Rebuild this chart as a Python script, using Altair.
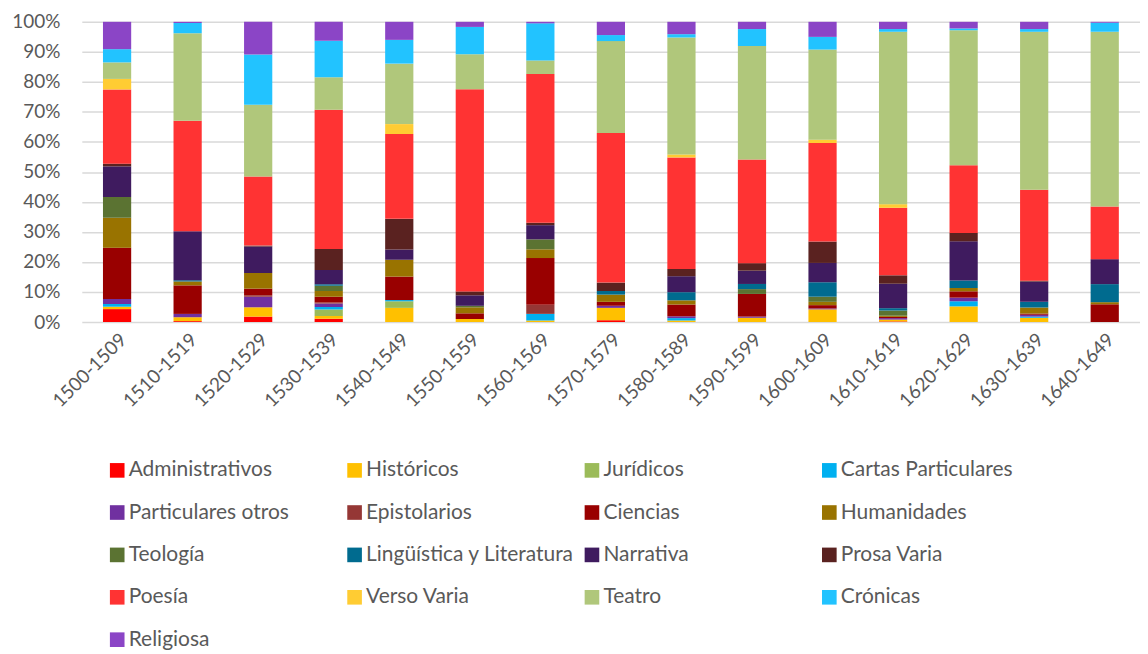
import altair as alt
import pandas as pd

decades = ["1500-1509", "1510-1519", "1520-1529", "1530-1539", "1540-1549",
           "1550-1559", "1560-1569", "1570-1579", "1580-1589", "1590-1599",
           "1600-1609", "1610-1619", "1620-1629", "1630-1639", "1640-1649"]

# Percent share per decade (bottom of stack first)
administrativos = [4.3, 0.3, 1.8, 1.1, 0, 0, 0, 0.6, 0, 0, 0, 0.2, 0, 0, 0]
historicos = [0.8, 1.3, 3.1, 0.9, 4.7, 1.0, 0.5, 4.1, 0.5, 1.4, 4.2, 0.6, 5.2, 1.4, 0]
juridicos = [0, 0, 0, 2.2, 2.2, 0, 0, 0, 0, 0, 0, 0, 0, 0, 0]
cartas_particulares = [0.9, 0, 0, 0.8, 0.4, 0, 2.2, 0, 0.8, 0, 0, 0, 1.7, 0.4, 0]
particulares_otros = [1.7, 1.1, 3.5, 1.2, 0, 0, 0, 0.7, 0.6, 0.4, 0.3, 0.5, 1.2, 0.6, 0]
epistolarios = [0, 0, 0.5, 0.3, 0, 0, 3.0, 0, 0, 0, 0, 0, 0, 0, 0]
ciencias = [17.0, 9.5, 2.2, 1.9, 7.8, 1.9, 15.5, 1.3, 3.9, 7.5, 1.1, 0.4, 2.1, 0.4, 5.9]
humanidades = [10.0, 1.3, 5.2, 1.9, 5.6, 2.0, 2.9, 2.4, 1.4, 0, 1.1, 0.4, 1.1, 2.0, 0.7]
teologia = [6.9, 0, 0, 1.8, 0, 0.5, 3.3, 0, 0, 1.6, 1.7, 1.7, 0, 0, 0]
linguistica = [0, 0.4, 0, 0.5, 0, 0, 0, 1.2, 2.7, 1.7, 4.8, 0.8, 2.5, 1.9, 6.0]
narrativa = [10.2, 16.3, 8.8, 4.7, 3.4, 3.5, 4.7, 0, 5.3, 4.4, 6.4, 8.1, 13.0, 6.7, 8.3]
prosa_varia = [0.9, 0, 0.3, 7.0, 10.2, 1.3, 0.8, 2.8, 2.4, 2.5, 7.1, 2.8, 2.8, 0.3, 0]
poesia = [24.7, 36.8, 23.0, 46.4, 28.2, 67.3, 49.3, 49.7, 37.0, 34.3, 32.7, 22.4, 22.5, 30.1, 17.5]
verso_varia = [3.5, 0, 0, 0, 3.3, 0, 0, 0, 1.0, 0, 1.1, 1.2, 0, 0, 0]
teatro = [5.5, 29.1, 23.8, 10.8, 20.1, 11.7, 4.5, 30.5, 38.8, 37.6, 29.9, 57.2, 44.8, 52.3, 58.1]
cronicas = [4.4, 3.4, 16.7, 12.2, 7.9, 9.1, 12.3, 2.0, 1.1, 5.6, 4.2, 0.9, 0.6, 0.9, 3.0]
religiosa = [9.1, 0.4, 10.9, 6.3, 6.0, 1.7, 0.5, 4.4, 4.1, 2.4, 5.0, 2.4, 2.2, 2.4, 0.3]

categories = ["Administrativos", "Históricos", "Jurídicos", "Cartas Particulares",
              "Particulares otros", "Epistolarios", "Ciencias", "Humanidades",
              "Teología", "Lingüística y Literatura", "Narrativa", "Prosa Varia",
              "Poesía", "Verso Varia", "Teatro", "Crónicas", "Religiosa"]

colors = ["#FF0000", "#FFC000", "#9BBB59", "#00B0F0",
          "#7030A0", "#953735", "#990000", "#997300",
          "#5B7332", "#006B8F", "#3F1B5F", "#5A2220",
          "#FF3333", "#FFCC33", "#B0C77B", "#22C3FF", "#8B45C6"]

series = [administrativos, historicos, juridicos, cartas_particulares,
          particulares_otros, epistolarios, ciencias, humanidades, teologia,
          linguistica, narrativa, prosa_varia, poesia, verso_varia, teatro,
          cronicas, religiosa]

rows = []
for ci, (cat, vals) in enumerate(zip(categories, series)):
    for d, v in zip(decades, vals):
        rows.append({"decade": d, "category": cat, "value": v, "order": ci})
df = pd.DataFrame(rows)

FONT = "Lato"
GRAY = "#595959"

chart = alt.Chart(df).mark_bar().encode(
    x=alt.X("decade:N", sort=decades, title=None,
            scale=alt.Scale(paddingInner=0.6, paddingOuter=0.3),
            axis=alt.Axis(labelAngle=-45, labelFontSize=19, labelColor=GRAY,
                          labelFont=FONT, ticks=False, domain=False,
                          labelPadding=8)),
    y=alt.Y("value:Q", stack="normalize", title=None,
            axis=alt.Axis(format="%", values=[i / 10 for i in range(11)],
                          labelFontSize=19, labelColor=GRAY, labelFont=FONT,
                          ticks=False, domain=False, labelPadding=22,
                          grid=True, gridColor="#D9D9D9", gridWidth=1.5)),
    color=alt.Color("category:N",
                    scale=alt.Scale(domain=categories, range=colors),
                    legend=alt.Legend(title=None, orient="none",
                                      legendX=25, legendY=439,
                                      columns=4, direction="horizontal",
                                      gridAlign="all", symbolType="square",
                                      symbolSize=215, symbolStrokeWidth=0,
                                      labelFontSize=21, labelColor=GRAY,
                                      labelFont=FONT, labelOffset=1,
                                      rowPadding=20.5, columnPadding=7,
                                      labelLimit=400)),
    order=alt.Order("order:Q", sort="ascending"),
).properties(
    width=1061, height=301,
    autosize=alt.AutoSizeParams(type="none"),
    padding={"left": 74, "top": 13, "right": 0, "bottom": 331},
).configure_view(stroke=None)

chart.save("out.html", embed_options={"renderer": "svg", "actions": False})
